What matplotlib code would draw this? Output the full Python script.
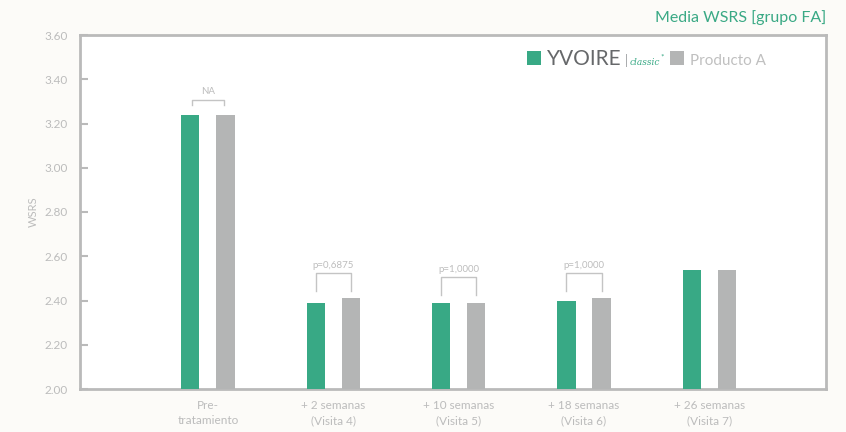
import numpy as np
import matplotlib
matplotlib.use("Agg")
import matplotlib.pyplot as plt
from matplotlib.patches import Patch

categories = ["Pre-\ntratamiento", "+ 2 semanas\n(Visita 4)", "+ 10 semanas\n(Visita 5)",
              "+ 18 semanas\n(Visita 6)", "+ 26 semanas\n(Visita 7)"]
yvoire = [3.24, 2.39, 2.39, 2.40, 2.54]
producto_a = [3.24, 2.41, 2.39, 2.41, 2.54]
p_labels = ["NA", "p=0,6875", "p=1,0000", "p=1,0000", None]
y_ticks = [2.00, 2.20, 2.40, 2.60, 2.80, 3.00, 3.20, 3.40, 3.60]

GREEN = "#38a985"
GRAY = "#b4b5b5"
SPINE = "#bababa"
TEXT = "#bcbcbc"

plt.rcParams["font.family"] = ["Lato", "DejaVu Sans"]

fig = plt.figure(figsize=(8.46, 4.32), dpi=100, facecolor="#fcfbf8")
ax = fig.add_axes([80 / 846, 1 - 389 / 432, 746 / 846, 354 / 432])
ax.set_facecolor("white")

x = np.arange(len(categories))
off = 0.14
w = 0.145
ax.bar(x - off, yvoire, w, color=GREEN, zorder=3)
ax.bar(x + off, producto_a, w, color=GRAY, zorder=3)

# significance brackets
for i, lab in enumerate(p_labels):
    if lab is None:
        continue
    top = max(yvoire[i], producto_a[i])
    x0, x1 = x[i] - off, x[i] + off
    if lab == "NA":
        leg, hi, ty = top + 0.045, top + 0.065, top + 0.085
        x0, x1 = x[i] - off * 0.9, x[i] + off * 0.9
    else:
        leg, hi, ty = top + 0.035, top + 0.115, top + 0.13
    ax.plot([x0, x0, x1, x1], [leg, hi, hi, leg], color="#c4c4c4", lw=1.0, zorder=4)
    ax.text(x[i], ty, lab, ha="center", va="bottom", fontsize=7, color="#bdbdbd")

ax.set_xlim(-1.02, 4.93)
ax.set_ylim(2.0, 3.6)
ax.set_yticks(y_ticks)
ax.set_yticklabels([f"{v:.2f}" for v in y_ticks])
ax.set_xticks(x)
ax.set_xticklabels(categories, linespacing=1.45)
ax.tick_params(axis="y", direction="in", length=6, width=1.5, color=SPINE,
               labelcolor=TEXT, labelsize=8.5, pad=9)
ax.tick_params(axis="x", length=0, labelcolor=TEXT, labelsize=8.5, pad=8)
for s in ax.spines.values():
    s.set_color(SPINE)
    s.set_linewidth(2)

ax.set_ylabel("WSRS", color=TEXT, fontsize=8, labelpad=4)

fig.text(826 / 846, 1 - 18 / 432, "Media WSRS [grupo FA]", ha="right", va="center",
         color="#3aa985", fontsize=11.5)

handles = [Patch(facecolor=GREEN), Patch(facecolor=GRAY)]
leg = ax.legend(handles, ["YVOIRE", "Producto A"], ncol=2,
                loc="center left", bbox_to_anchor=(527 / 846, 1 - 59 / 432),
                bbox_transform=fig.transFigure, frameon=False, borderpad=0,
                borderaxespad=0, handlelength=0.65, handleheight=0.65,
                handletextpad=0.3, columnspacing=2.35, fontsize=15)
txts = leg.get_texts()
txts[0].set_color("#66686a")
txts[1].set_color("#c0c0c0")
txts[1].set_fontsize(11)

# brand suffix right after "YVOIRE"
fig.canvas.draw()
bb = txts[0].get_window_extent()
fig.text((bb.x1 + 3) / 846, (bb.y0 + 4) / 432, "|", color="#a0a2a4", fontsize=9,
         va="baseline")
fig.text((bb.x1 + 8) / 846, (bb.y0 + 4) / 432, "classic", color=GREEN, fontsize=6.5,
         style="italic", family="DejaVu Serif", va="baseline")
fig.text((bb.x1 + 39) / 846, (bb.y0 + 10) / 432, "*", color=GREEN, fontsize=6,
         va="baseline")

fig.savefig("out.png", dpi=100, facecolor=fig.get_facecolor())
